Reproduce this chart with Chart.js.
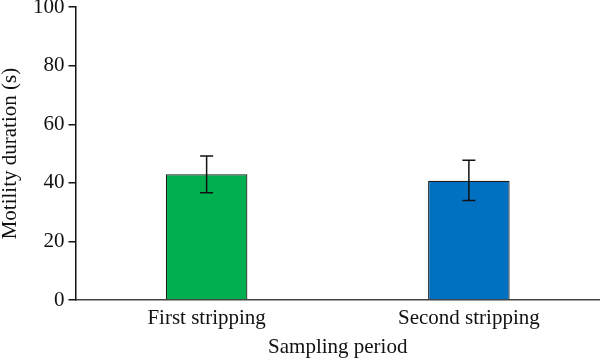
<!DOCTYPE html>
<html>
<head>
<meta charset="utf-8">
<script src="https://cdn.jsdelivr.net/npm/chart.js@4/dist/chart.umd.min.js"></script>
<style>
  html, body { margin: 0; padding: 0; background: #fff; }
  #wrap { width: 600px; height: 360px; }
</style>
</head>
<body>
<div id="wrap"><canvas id="chart"></canvas></div>
<script>
var categories = ['First stripping', 'Second stripping'];
var means = [42.9, 40.7];
var errLow = [36.6, 34.0];
var errHigh = [49.2, 47.7];
var barColors = ['#00b050', '#0070c0'];
var yTicks = [0, 20, 40, 60, 80, 100];

var fontFamily = '"Liberation Serif", "DejaVu Serif", serif';

// whiskers drawn through the y scale
var errorBars = {
    id: 'errorBars',
    afterDatasetsDraw: function(chart) {
        var ctx = chart.ctx;
        var y = chart.scales.y;
        var meta = chart.getDatasetMeta(0);
        ctx.save();
        ctx.strokeStyle = '#111';
        ctx.lineWidth = 1.5;
        meta.data.forEach(function(bar, i) {
            var x = bar.x;
            var top = y.getPixelForValue(errHigh[i]);
            var bot = y.getPixelForValue(errLow[i]);
            ctx.beginPath();
            ctx.moveTo(x, top); ctx.lineTo(x, bot);
            ctx.moveTo(x - 6.5, top); ctx.lineTo(x + 6.5, top);
            ctx.moveTo(x - 6.5, bot); ctx.lineTo(x + 6.5, bot);
            ctx.stroke();
        });
        ctx.restore();
    }
};

new Chart(document.getElementById('chart'), {
    type: 'bar',
    data: {
        labels: categories,
        datasets: [{
            data: means,
            backgroundColor: barColors,
            borderColor: '#1a1a1a',
            borderWidth: 1.2,
            barPercentage: 0.311,
            categoryPercentage: 1.0
        }]
    },
    options: {
        responsive: true,
        maintainAspectRatio: false,
        animation: false,
        layout: { padding: { top: 0, right: 0, left: 0, bottom: 0 } },
        plugins: {
            legend: { display: false },
            tooltip: { enabled: false }
        },
        scales: {
            x: {
                grid: { display: false },
                border: { color: '#444', width: 1.5 },
                ticks: { color: '#111', font: { family: fontFamily, size: 21, lineHeight: 1.0 }, padding: 0 },
                title: {
                    display: true, text: 'Sampling period', color: '#111',
                    font: { family: fontFamily, size: 21, lineHeight: 1.0 }, padding: { top: 4, bottom: 2 }
                },
                afterFit: function(axis) { axis.height = 60; }
            },
            y: {
                min: 0, max: 100,
                afterBuildTicks: function(axis) {
                    axis.ticks = yTicks.map(function(v) { return { value: v }; });
                },
                grid: { drawOnChartArea: false, drawTicks: true, tickLength: 7, color: '#111', lineWidth: 1.5 },
                border: { color: '#111', width: 1.5 },
                ticks: { color: '#111', font: { family: fontFamily, size: 21, lineHeight: 0.3 }, padding: 4 },
                title: {
                    display: true, text: 'Motility duration (s)', color: '#111',
                    font: { family: fontFamily, size: 21, lineHeight: 1.0 }, padding: { top: 0, bottom: 8 }
                }
            }
        }
    },
    plugins: [errorBars]
});
</script>
</body>
</html>
